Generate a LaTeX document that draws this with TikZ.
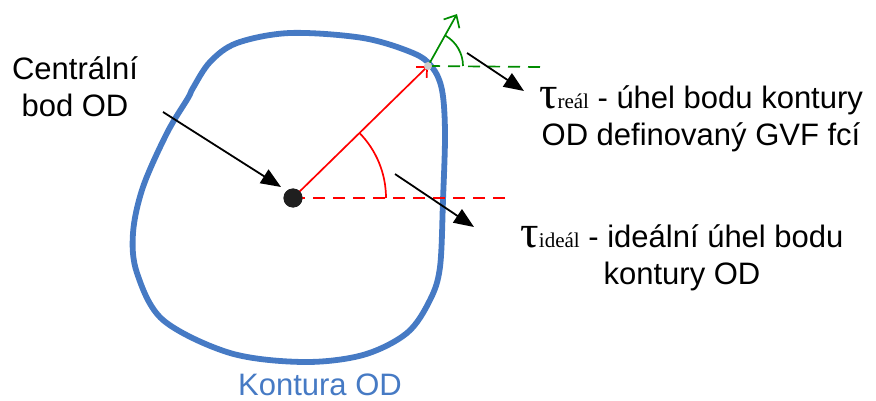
\documentclass[tikz,border=0pt]{standalone}
\usepackage{fontspec}
\setmainfont{Liberation Sans}
\newfontfamily\serifgr{Liberation Serif}
\usetikzlibrary{arrows.meta}
\definecolor{kblue}{RGB}{70,122,196}
\definecolor{kgreen}{RGB}{0,140,0}
\newcommand{\taubig}{{\serifgr\fontsize{46}{46}\selectfont τ}}
\newcommand{\subsm}[1]{{\serifgr\fontsize{21}{21}\selectfont #1}}
\begin{document}
\begin{tikzpicture}[x=1pt,y=1pt,
  lbl/.style={font=\fontsize{31}{37}\selectfont, align=center, inner sep=0pt},
  pointer/.style={draw=black, line width=1.8pt, -{Triangle[length=20pt,width=16pt]}},
  redline/.style={draw=red, line width=1.7pt},
  greenline/.style={draw=kgreen, line width=1.7pt},
  dashedline/.style={dash pattern=on 12pt off 8pt},
  barb/.style={-{Straight Barb[length=8pt,width=15pt]}}]
\useasboundingbox (0,0) rectangle (876,-401);
% contour
\draw[kblue, line width=5.8pt] plot[smooth cycle, tension=0.55] coordinates {
 (290,-33) (363,-38) (413,-53) (432,-67) (442,-90) (445,-133) (443,-200)
 (440,-267) (430,-300) (407,-333) (363,-355) (303,-362) (230,-353)
 (163,-320) (137,-273) (133,-233) (143,-187) (167,-133) (188,-98)
 (193,-88) (210,-62) (237,-43)};
% key points
\coordinate (P) at (428,-66);
\coordinate (G) at (457,-14);
\coordinate (rd) at (505,-198);
\coordinate (gd) at (540,-67);
\node[circle, fill=black!88, minimum size=19pt, inner sep=0pt] (C) at (293,-198) {};
% red
\draw[redline, dashedline] (C.center) -- (rd);
\draw[redline] (C.center) ++(93,0) arc[start angle=0, end angle=44.6, radius=93];
\draw[redline, barb] (C.center) -- (P);
% green
\draw[greenline, dashedline] (P) -- (gd);
\draw[greenline] (P) ++(35,0) arc[start angle=0, end angle=60, radius=35];
\draw[greenline, -{Straight Barb[length=10pt,width=18pt]}] (P) -- (G);
\fill[black!20] (P) circle (4);
\node[circle, fill=black!88, minimum size=19pt, inner sep=0pt] at (C) {};
% texts
\node[lbl, anchor=base] (tc) at (75,-117) {Centrální\\bod OD};
\node[lbl, anchor=base] (treal) at (701,-146) {\taubig\subsm{reál} - úhel bodu kontury\\OD definovaný GVF fcí};
\node[lbl, anchor=base] (tideal) at (682,-284) {\taubig\subsm{ideál} - ideální úhel bodu\\kontury OD};
\node[lbl, text=kblue, anchor=base] (kont) at (320,-395) {Kontura OD};
% pointers
\coordinate (a1s) at (163,-112);
\coordinate (a1e) at (281,-187);
\coordinate (a2s) at (395,-174);
\coordinate (a2e) at (474,-227);
\coordinate (a3s) at (467,-53);
\coordinate (a3e) at (524,-91);
\draw[pointer] (a1s) -- (a1e);
\draw[pointer] (a2s) -- (a2e);
\draw[pointer] (a3s) -- (a3e);
\end{tikzpicture}
\end{document}
